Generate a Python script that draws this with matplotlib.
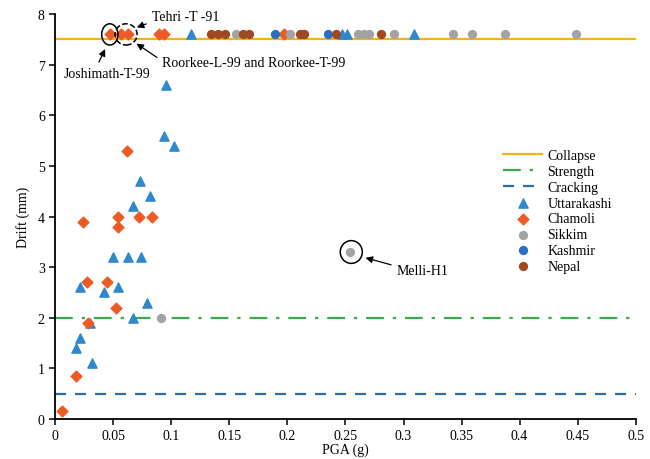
import matplotlib
matplotlib.use("Agg")
import matplotlib.pyplot as plt
from matplotlib.patches import Ellipse

plt.rcParams['font.family'] = ['Liberation Serif', 'DejaVu Serif']

# données
utt_x = [0.095, 0.094, 0.102, 0.073, 0.082, 0.067, 0.050, 0.063, 0.074, 0.021, 0.054, 0.042,
         0.079, 0.067, 0.030, 0.021, 0.0175, 0.032, 0.117, 0.247, 0.251, 0.309]
utt_y = [6.6, 5.6, 5.4, 4.7, 4.4, 4.2, 3.2, 3.2, 3.2, 2.6, 2.6, 2.5,
         2.3, 2.0, 1.9, 1.6, 1.4, 1.1, 7.6, 7.6, 7.6, 7.6]

cham_x = [0.062, 0.024, 0.054, 0.054, 0.072, 0.083, 0.027, 0.045, 0.052, 0.028, 0.0175, 0.0057,
          0.047, 0.057, 0.063, 0.0896, 0.094, 0.197]
cham_y = [5.3, 3.9, 4.0, 3.8, 4.0, 4.0, 2.7, 2.7, 2.2, 1.9, 0.84, 0.16,
          7.6, 7.6, 7.6, 7.6, 7.6, 7.6]

sik_x = [0.0915, 0.254, 0.156, 0.202, 0.261, 0.266, 0.270, 0.292, 0.343, 0.359, 0.387, 0.449]
sik_y = [2.0, 3.3, 7.6, 7.6, 7.6, 7.6, 7.6, 7.6, 7.6, 7.6, 7.6, 7.6]

kash_x = [0.189, 0.235]
kash_y = [7.6, 7.6]

nep_x = [0.134, 0.140, 0.146, 0.162, 0.167, 0.211, 0.214, 0.2415, 0.2805]
nep_y = [7.6, 7.6, 7.6, 7.6, 7.6, 7.6, 7.6, 7.6, 7.6]

collapse = 7.5
strength = 2.0
cracking = 0.5

xticks = [0, 0.05, 0.1, 0.15, 0.2, 0.25, 0.3, 0.35, 0.4, 0.45, 0.5]
xlabels = ["0", "0.05", "0.1", "0.15", "0.2", "0.25", "0.3", "0.35", "0.4", "0.45", "0.5"]

fig = plt.figure(figsize=(6.5, 4.6), dpi=100)
ax = fig.add_axes([0.085, 0.087, 0.893, 0.88])

ax.axhline(collapse, color='#F7B20F', lw=1.6, label='Collapse')
ax.axhline(strength, color='#3DAA4F', lw=1.6, ls=(0, (8, 4, 1.5, 4)), label='Strength')
ax.axhline(cracking, color='#2F6EA8', lw=1.6, ls=(0, (5, 4)), label='Cracking')

ax.scatter(utt_x, utt_y, marker='^', s=44, color='#2E89CC', label='Uttarakashi', zorder=3)
ax.scatter(cham_x, cham_y, marker='D', s=30, color='#EE5A24', label='Chamoli', zorder=3)
ax.scatter(sik_x, sik_y, marker='o', s=32, color='#A3A3A3', label='Sikkim', zorder=3)
ax.scatter(kash_x, kash_y, marker='o', s=32, color='#2A6FC4', label='Kashmir', zorder=3)
ax.scatter(nep_x, nep_y, marker='o', s=32, color='#A04820', label='Nepal', zorder=3)

# cercles et annotations
ax.add_patch(Ellipse((0.047, 7.6), 0.014, 0.42, fill=False, color='black', lw=1.1, zorder=4))
ax.add_patch(Ellipse((0.061, 7.6), 0.019, 0.42, fill=False, color='black', lw=1.1, ls='--', zorder=4))
ax.add_patch(Ellipse((0.255, 3.3), 0.019, 0.45, fill=False, color='black', lw=1.1, zorder=4))

arr = dict(arrowstyle='-|>', color='black', lw=0.9, mutation_scale=10)
ax.annotate('Tehri -T -91', xy=(0.068, 7.72), xytext=(0.083, 7.95), fontsize=10,
            va='center', arrowprops=dict(arr, relpos=(0.0, 0.1)))
ax.annotate('Joshimath-T-99', xy=(0.044, 7.36), xytext=(0.007, 6.82), fontsize=10,
            va='center', arrowprops=dict(arr, relpos=(0.38, 1.0)))
ax.annotate('Roorkee-L-99 and Roorkee-T-99', xy=(0.068, 7.45), xytext=(0.092, 7.05), fontsize=10,
            va='center', arrowprops=dict(arr, relpos=(0.0, 0.6)))
ax.annotate('Melli-H1', xy=(0.265, 3.2), xytext=(0.294, 2.94), fontsize=10,
            va='center', arrowprops=dict(arr, relpos=(0.0, 0.8)))

ax.set_xlim(0, 0.5)
ax.set_ylim(0, 8)
ax.set_xticks(xticks)
ax.set_xticklabels(xlabels)
ax.set_yticks(range(0, 9))
ax.spines['top'].set_visible(False)
ax.spines['right'].set_visible(False)
ax.spines['left'].set_linewidth(1.3)
ax.spines['bottom'].set_linewidth(1.3)
ax.tick_params(axis='both', labelsize=10, direction='out', length=4, width=1.1)
ax.set_xlabel('PGA (g)', fontsize=10, labelpad=0)
ax.set_ylabel('Drift (mm)', fontsize=10, labelpad=6)

ax.legend(loc='upper left', bbox_to_anchor=(0.762, 0.68), frameon=False, fontsize=10,
          handlelength=2.8, handletextpad=0.4, labelspacing=0.2, borderaxespad=0)

plt.savefig("out.png", dpi=100)
